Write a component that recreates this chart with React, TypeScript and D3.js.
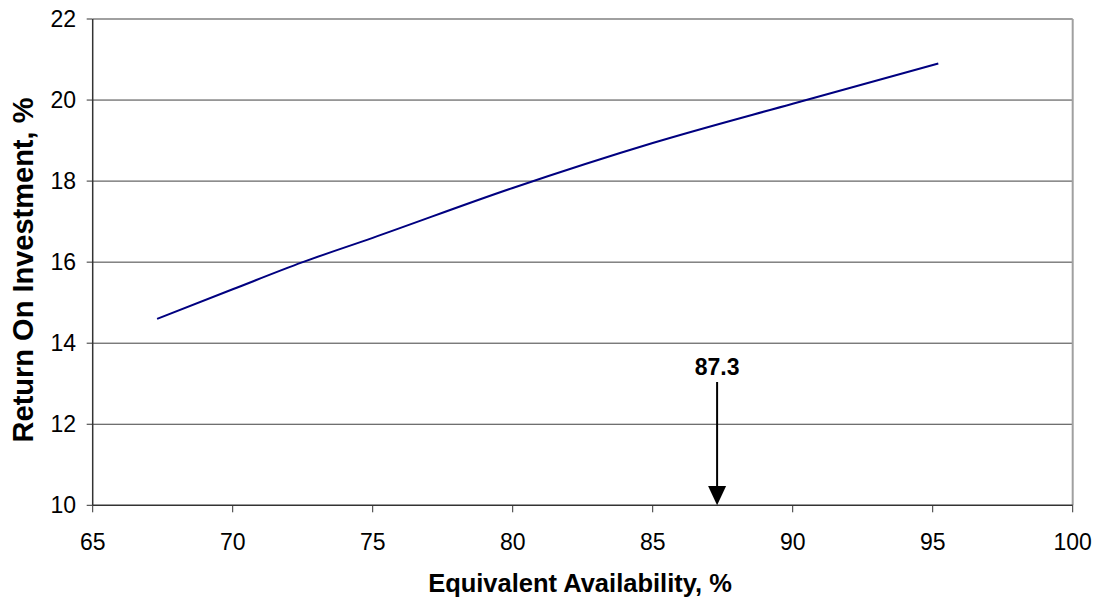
import React from "react";
import * as d3 from "d3";

const availability = [67.3, 70, 72.5, 75, 80, 85, 90, 95.2];
const roi = [14.6, 15.33, 16.0, 16.6, 17.83, 18.94, 19.91, 20.9];
const xTicks = [65, 70, 75, 80, 85, 90, 95, 100];
const yTicks = [10, 12, 14, 16, 18, 20, 22];
const markerValue = 87.3;
const markerLabel = "87.3";

export default function App() {
  const W = 1097, H = 605;
  const left = 92.7, right = 1072.7, top = 19, bottom = 505.3;
  const x = d3.scaleLinear().domain([65, 100]).range([left, right]);
  const y = d3.scaleLinear().domain([10, 22]).range([bottom, top]);
  const pts = availability.map((a, i) => [a, roi[i]] as [number, number]);
  const line = d3.line<[number, number]>().x(d => x(d[0])).y(d => y(d[1])).curve(d3.curveMonotoneX);
  const font = "'Liberation Sans', Arial, sans-serif";
  const mx = x(markerValue);
  return (
    <svg width={W} height={H} style={{ position: "absolute", left: 0, top: 0 }} fontFamily={font}>
      <rect x={0} y={0} width={W} height={H} fill="#fff" />
      {yTicks.map(t => (
        <g key={t}>
          {t !== 10 && t !== 22 && (
            <line x1={left} x2={right} y1={y(t)} y2={y(t)} stroke="#404040" strokeWidth={1} />
          )}
          <line x1={left - 6} x2={left} y1={y(t)} y2={y(t)} stroke="#333" strokeWidth={1} />
          <text x={76} y={y(t) + 8} textAnchor="end" fontSize={23} fill="#000">{t}</text>
        </g>
      ))}
      <line x1={left} x2={right} y1={top} y2={top} stroke="#a0a0a0" strokeWidth={2} />
      <line x1={right} x2={right} y1={top} y2={bottom} stroke="#a0a0a0" strokeWidth={2} />
      <line x1={left} x2={left} y1={top} y2={bottom} stroke="#333" strokeWidth={1.5} />
      <line x1={left} x2={right} y1={bottom} y2={bottom} stroke="#333" strokeWidth={1.5} />
      {xTicks.map(t => (
        <g key={t}>
          <line x1={x(t)} x2={x(t)} y1={bottom} y2={bottom + 7} stroke="#333" strokeWidth={1} />
          <text x={x(t)} y={550} textAnchor="middle" fontSize={23} fill="#000">{t}</text>
        </g>
      ))}
      <path d={line(pts) || ""} fill="none" stroke="#000080" strokeWidth={2} />
      <line x1={mx} x2={mx} y1={382} y2={488} stroke="#000" strokeWidth={2} />
      <path d={`M${mx - 9},${486} L${mx + 9},${486} L${mx},${bottom} Z`} fill="#000" />
      <text x={mx} y={375} textAnchor="middle" fontSize={23} fontWeight="bold" fill="#000">{markerLabel}</text>
      <text x={580} y={592} textAnchor="middle" fontSize={25.5} fontWeight="bold" fill="#000">Equivalent Availability, %</text>
      <text transform={`translate(33,${270}) rotate(-90)`} textAnchor="middle" fontSize={29} fontWeight="bold" fill="#000">Return On Investment, %</text>
    </svg>
  );
}
